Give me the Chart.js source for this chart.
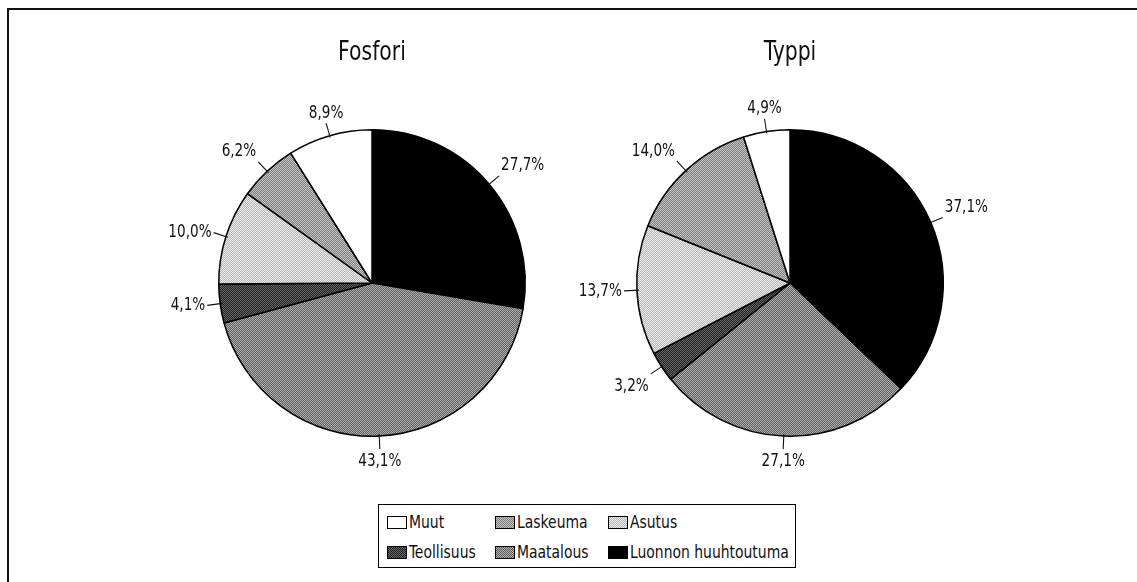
<!DOCTYPE html>
<html>
<head>
<meta charset="utf-8">
<script src="https://cdn.jsdelivr.net/npm/chart.js@4"></script>
<style>
  body { margin:0; background:#fff; width:1137px; height:582px; overflow:hidden; position:relative;
         font-family:'Liberation Sans Narrow','DejaVu Sans Condensed',sans-serif; color:#111; }
  #frame { position:absolute; left:7px; top:8px; width:1140px; height:590px;
           border-left:2px solid #111; border-top:2px solid #111; }
  .pie { position:absolute; top:20px; width:440px; height:470px; }
  #legend { position:absolute; left:378px; top:504px; width:416px; height:62px; border:1px solid #000; background:#fff; }
  .item { position:absolute; font-size:18px; line-height:20px; display:flex; align-items:center; white-space:nowrap; }
  .item .txt { display:inline-block; transform:scaleX(0.86); transform-origin:left center; }
  .sw { width:18px; height:11px; border:1px solid #000; margin-right:2px; }
</style>
</head>
<body>
<div id="frame"></div>
<div class="pie" style="left:152px"><canvas id="fosfori"></canvas></div>
<div class="pie" style="left:570px"><canvas id="typpi"></canvas></div>
<div id="legend"></div>
<script>
// slices clockwise from 12 o'clock
const categories = ['Luonnon huuhtoutuma', 'Maatalous', 'Teollisuus', 'Asutus', 'Laskeuma', 'Muut'];
const fosforiValues = [27.7, 43.1, 4.1, 10.0, 6.2, 8.9];
const typpiValues = [37.1, 27.1, 3.2, 13.7, 14.0, 4.9];
const titles = ['Fosfori', 'Typpi'];
const legendOrder = ['Muut', 'Laskeuma', 'Asutus', 'Teollisuus', 'Maatalous', 'Luonnon huuhtoutuma'];

const FONT = "'Liberation Sans Narrow','DejaVu Sans Condensed',sans-serif";
const NARROW = 0.84; // the original uses a condensed face

// dithered look of the printed original: 2x2 checker of two greys
function makeTile(c1, c2) {
  const t = document.createElement('canvas');
  t.width = 2; t.height = 2;
  const g = t.getContext('2d');
  g.fillStyle = c1; g.fillRect(0, 0, 2, 2);
  g.fillStyle = c2; g.fillRect(0, 0, 1, 1); g.fillRect(1, 1, 1, 1);
  return t;
}
const tiles = {
  'Luonnon huuhtoutuma': makeTile('#000', '#000'),
  'Maatalous': makeTile('#5e5e5e', '#b0b0b0'),
  'Teollisuus': makeTile('#222', '#666'),
  'Asutus': makeTile('#b4b4b4', '#eeeeee'),
  'Laskeuma': makeTile('#7e7e7e', '#c4c4c4'),
  'Muut': makeTile('#fff', '#fff')
};

function narrowText(ctx, txt, x, y) {
  ctx.save();
  ctx.translate(x, y);
  ctx.scale(NARROW, 1);
  ctx.fillText(txt, 0, 0);
  ctx.restore();
}

const labelPlugin = {
  id: 'pieLabels',
  afterDatasetsDraw(chart) {
    const ctx = chart.ctx;
    const meta = chart.getDatasetMeta(0);
    const vals = chart.data.datasets[0].data;
    ctx.save();
    ctx.font = '18px ' + FONT;
    ctx.fillStyle = '#111';
    ctx.strokeStyle = '#111';
    ctx.lineWidth = 1.1;
    let cx = 0, cy = 0, r = 0;
    meta.data.forEach((arc, i) => {
      const p = arc.getProps(['x', 'y', 'startAngle', 'endAngle', 'outerRadius'], true);
      cx = p.x; cy = p.y; r = p.outerRadius;
      const a = (p.startAngle + p.endAngle) / 2;
      const c = Math.cos(a), s = Math.sin(a);
      const x1 = p.x + c * (r - 2), y1 = p.y + s * (r - 2);
      const x2 = p.x + c * (r + 13), y2 = p.y + s * (r + 13);
      ctx.beginPath(); ctx.moveTo(x1, y1); ctx.lineTo(x2, y2); ctx.stroke();
      const txt = vals[i].toFixed(1).replace('.', ',') + '%';
      ctx.textAlign = c > 0.3 ? 'left' : c < -0.3 ? 'right' : 'center';
      ctx.textBaseline = s > 0.35 ? 'top' : s < -0.35 ? 'bottom' : 'middle';
      const tx = x2 + (c > 0.3 ? 2 : c < -0.3 ? -2 : 0);
      const ty = y2 + (s > 0.35 ? 3 : s < -0.35 ? -1 : 0);
      narrowText(ctx, txt, tx, ty);
    });
    ctx.font = '27px ' + FONT;
    ctx.textAlign = 'center';
    ctx.textBaseline = 'alphabetic';
    narrowText(ctx, chart.options.plugins.pieTitle, cx, cy - r - 70);
    ctx.restore();
  }
};

function makePie(id, values, title) {
  const ctx = document.getElementById(id).getContext('2d');
  return new Chart(ctx, {
    type: 'pie',
    data: {
      labels: categories,
      datasets: [{
        data: values,
        backgroundColor: categories.map(k => ctx.createPattern(tiles[k], 'repeat')),
        borderColor: '#000',
        borderWidth: 1.5
      }]
    },
    options: {
      responsive: false,
      animation: false,
      layout: { padding: { left: 66, right: 66, top: 109, bottom: 53 } },
      plugins: {
        legend: { display: false },
        tooltip: { enabled: false },
        pieTitle: title
      }
    },
    plugins: [labelPlugin]
  });
}

document.querySelectorAll('.pie canvas').forEach(c => { c.width = 440; c.height = 470; });
makePie('fosfori', fosforiValues, titles[0]);
makePie('typpi', typpiValues, titles[1]);

// legend, 2 rows x 3 columns
const legend = document.getElementById('legend');
const colX = [8, 116, 229];
legendOrder.forEach((name, i) => {
  const d = document.createElement('div');
  d.className = 'item';
  d.style.left = colX[i % 3] + 'px';
  d.style.top = (i < 3 ? 7 : 37) + 'px';
  const sw = document.createElement('span');
  sw.className = 'sw';
  sw.style.backgroundImage = 'url(' + tiles[name].toDataURL() + ')';
  d.appendChild(sw);
  const t = document.createElement('span');
  t.className = 'txt';
  t.textContent = name;
  d.appendChild(t);
  legend.appendChild(d);
});
</script>
</body>
</html>
